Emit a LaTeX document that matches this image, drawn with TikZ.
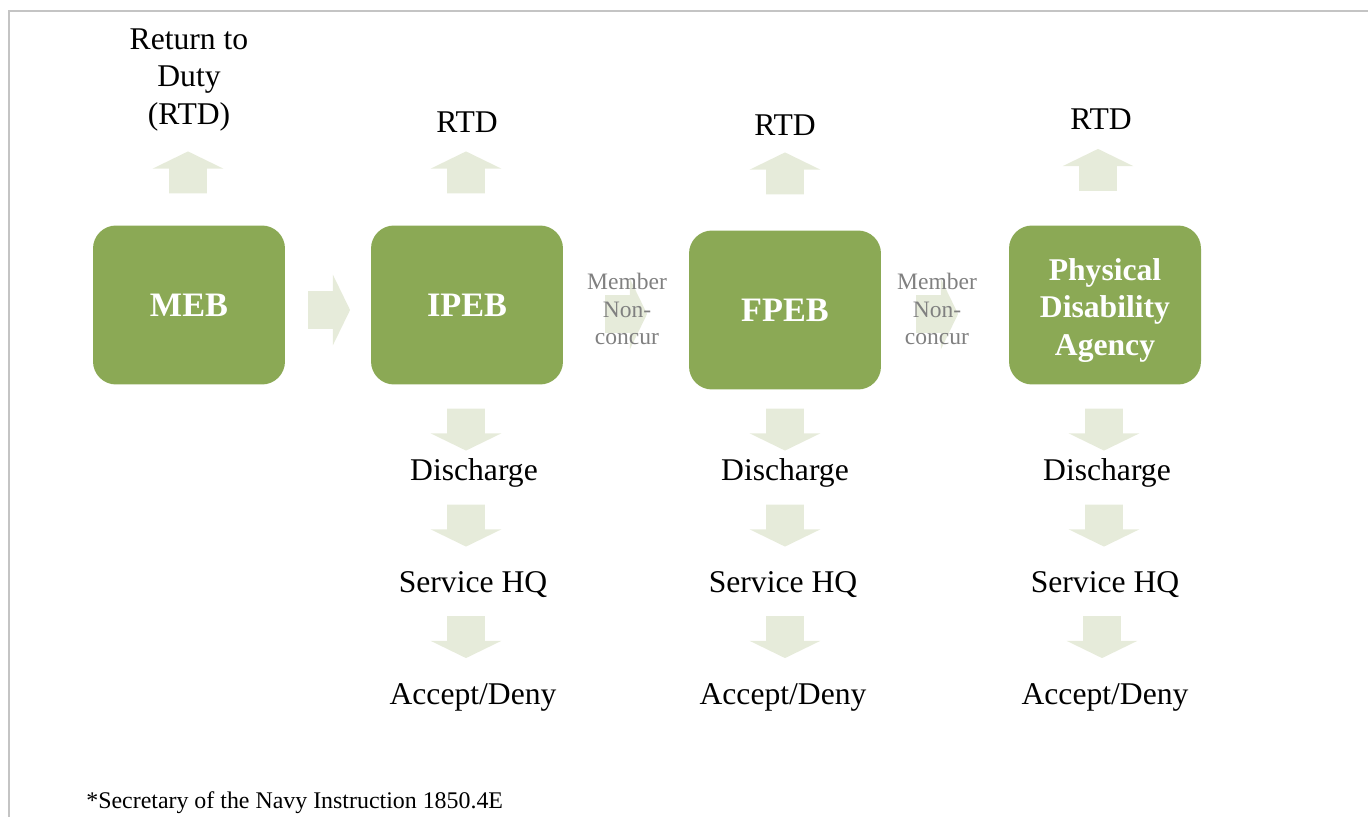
\documentclass[tikz,border=0pt]{standalone}
\usepackage{fontspec}
\setmainfont{Liberation Serif}
\usetikzlibrary{shapes.arrows}
\definecolor{boxgreen}{HTML}{8BA955}
\definecolor{arrowc}{HTML}{E6EBDA}
\definecolor{framec}{HTML}{C4C4C4}
\definecolor{membergray}{HTML}{808080}
\tikzset{
  box/.style={rectangle, rounded corners=0.46cm, fill=boxgreen, text=white,
    minimum width=3.84cm, minimum height=3.18cm, inner sep=0pt, align=center,
    font=\fontsize{19.5}{21.3}\selectfont\bfseries},
  blockarrow/.style={shape=single arrow, draw=none, fill=arrowc, inner xsep=0pt, inner ysep=0.37cm,
    minimum height=0.84cm, single arrow head extend=0.33cm,
    single arrow tip angle=128},
  uparrow/.style={blockarrow, rotate=90},
  downarrow/.style={blockarrow, rotate=270},
  rightarrow/.style={blockarrow},
  lbl/.style={inner sep=0pt, align=center, font=\fontsize{18}{21.3}\selectfont},
  member/.style={inner sep=0pt, align=center, text=membergray, font=\fontsize{13.4}{15.9}\selectfont},
}
\begin{document}
\begin{tikzpicture}[x=0.02cm,y=-0.02cm]
\useasboundingbox (0,0) rectangle (1368,817);
\begin{scope}
\clip (0,0) rectangle (1368,817);
\draw[framec, line width=0.04cm] (9,840) -- (9,11) -- (1400,11);
\end{scope}
% main boxes
\node[box] (meb) at (189,305) {MEB};
\node[box] (ipeb) at (467,305) {IPEB};
\node[box] (fpeb) at (785,310) {FPEB};
\node[box, font=\fontsize{18}{21.3}\selectfont\bfseries] (pda) at (1105,305)
  {\raisebox{-0.11cm}[\height][\depth]{\parbox{3.6cm}{\centering Physical\\Disability\\Agency}}};
% horizontal arrows
\node[rightarrow] (a1) at (324.5,310) {};
\node[rightarrow] (a2) at (621.5,314) {};
\node[rightarrow] (a3) at (932.5,314) {};
\node[member] (m1) at (627,309) {Member\\Non-\\concur};
\node[member] (m2) at (937,309) {Member\\Non-\\concur};
% up arrows
\node[uparrow] (u1) at (188,177) {};
\node[uparrow] (u2) at (466,177) {};
\node[uparrow] (u3) at (785,178) {};
\node[uparrow] (u4) at (1098,174.5) {};
\node[lbl] (rtd1) at (189,80) {Return to\\Duty\\(RTD)};
\node[lbl] (rtd2) at (467,122) {RTD};
\node[lbl] (rtd3) at (785,125) {RTD};
\node[lbl] (rtd4) at (1101,119) {RTD};
% down columns
\node[downarrow] (d21) at (466,425) {};
\node[downarrow] (d22) at (466,521) {};
\node[downarrow] (d23) at (466,632.5) {};
\node[downarrow] (d31) at (785,425) {};
\node[downarrow] (d32) at (785,521) {};
\node[downarrow] (d33) at (785,632.5) {};
\node[downarrow] (d41) at (1104,425) {};
\node[downarrow] (d42) at (1104,521) {};
\node[downarrow] (d43) at (1102,632.5) {};
\node[lbl] (dis2) at (474,473) {Discharge};
\node[lbl] (shq2) at (473,585) {Service HQ};
\node[lbl] (acc2) at (473,697.5) {Accept/Deny};
\node[lbl] (dis3) at (785,473) {Discharge};
\node[lbl] (shq3) at (783,585) {Service HQ};
\node[lbl] (acc3) at (783,697.5) {Accept/Deny};
\node[lbl] (dis4) at (1107,473) {Discharge};
\node[lbl] (shq4) at (1105,585) {Service HQ};
\node[lbl] (acc4) at (1105,697.5) {Accept/Deny};
% footnote
\node[inner sep=0pt, anchor=base west, font=\fontsize{13.6}{16}\selectfont] (note) at (86,808) {*Secretary of the Navy Instruction 1850.4E};
\end{tikzpicture}
\end{document}
